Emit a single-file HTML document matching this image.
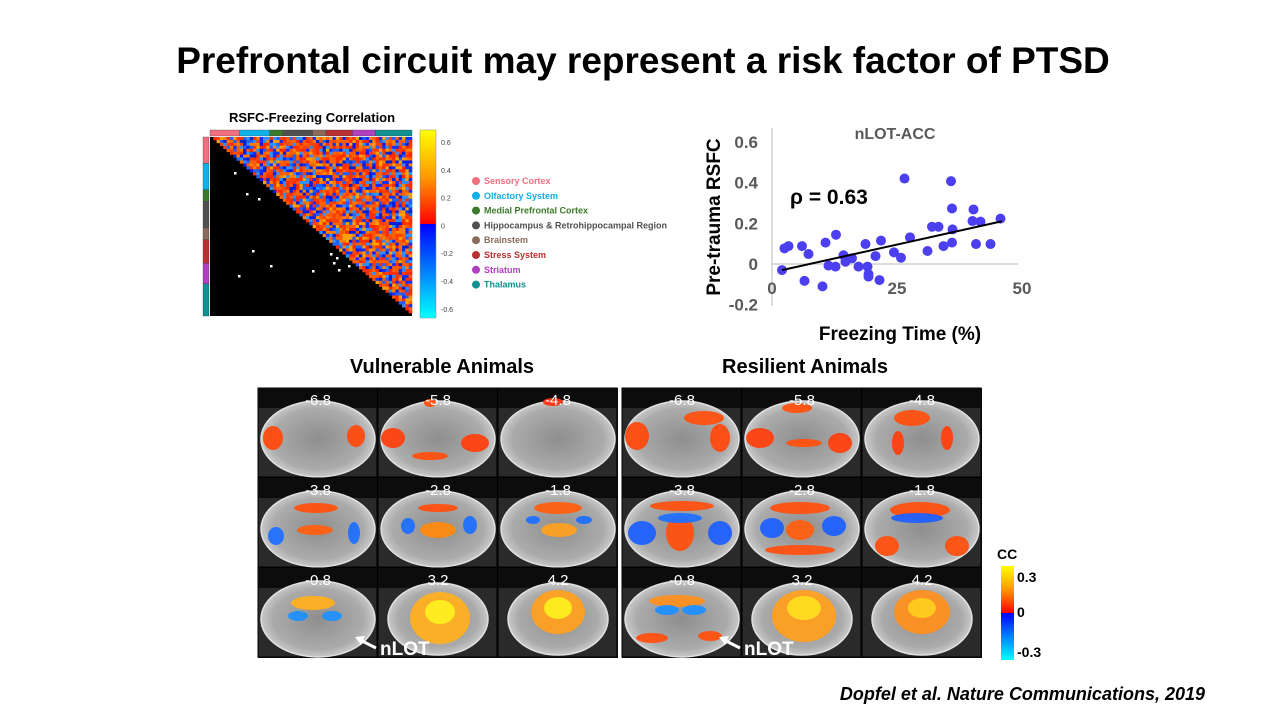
<!DOCTYPE html>
<html><head><meta charset="utf-8"><style>
html,body{margin:0;padding:0;background:#fff;}
body{width:1280px;height:720px;overflow:hidden;font-family:"Liberation Sans",sans-serif;}
</style></head><body>
<svg id="root" width="1280" height="720" viewBox="0 0 1280 720" font-family="Liberation Sans, sans-serif">
<defs>
<linearGradient id="cbar" x1="0" y1="0" x2="0" y2="1">
<stop offset="0" stop-color="#ffff00"/><stop offset="0.25" stop-color="#ff9900"/><stop offset="0.5" stop-color="#ff0000"/><stop offset="0.5" stop-color="#0000ff"/><stop offset="1" stop-color="#00ffff"/></linearGradient>
<radialGradient id="brainG" cx="0.5" cy="0.5" r="0.5"><stop offset="0" stop-color="#8e8e8e"/><stop offset="0.8" stop-color="#ababab"/><stop offset="1" stop-color="#c8c8c8"/></radialGradient>
</defs>
<text x="643" y="73" text-anchor="middle" font-size="37" font-weight="bold">Prefrontal circuit may represent a risk factor of PTSD</text>

<text x="312" y="122" text-anchor="middle" font-size="13" font-weight="bold">RSFC-Freezing Correlation</text>
<g id="matrix"></g>
<g id="mcbar">
<rect x="420" y="130" width="16" height="188" fill="url(#cbar)" stroke="#888" stroke-width="0.5"/>
</g>
<g id="legend"></g>

<g id="scatter"></g>

<text x="442" y="373" text-anchor="middle" font-size="20" font-weight="bold">Vulnerable Animals</text>
<text x="805" y="373" text-anchor="middle" font-size="20" font-weight="bold">Resilient Animals</text>
<g id="brains"></g>

<g>
<text x="997" y="559" font-size="14" font-weight="bold">CC</text>
<rect x="1001" y="566" width="13" height="94" fill="url(#cbar)"/>
<text x="1017" y="582" font-size="14" font-weight="bold">0.3</text>
<text x="1017" y="617" font-size="14" font-weight="bold">0</text>
<text x="1017" y="657" font-size="14" font-weight="bold">-0.3</text>
</g>
<text x="1205" y="700" text-anchor="end" font-size="18" font-weight="bold" font-style="italic">Dopfel et al. Nature Communications, 2019</text>
</svg>
<script>
const NS='http://www.w3.org/2000/svg';
function mk(tag,attrs,parent){const e=document.createElementNS(NS,tag);for(const k in attrs)e.setAttribute(k,attrs[k]);parent.appendChild(e);return e;}

// ---- scatter data ----
const freezeX=[2.0,2.5,3.3,6.0,6.5,7.3,10.1,10.7,11.3,12.7,12.8,14.3,14.7,16,17.3,18.7,19.1,19.3,19.3,20.7,21.5,21.8,24.4,25.8,26.5,27.6,31.1,32,33.3,34.3,35.8,36,36.1,36,40.3,40.1,40.8,41.7,43.7,45.7];
const rsfcY=[-0.03,0.077,0.088,0.088,-0.083,0.049,-0.11,0.105,-0.008,-0.013,0.144,0.043,0.011,0.028,-0.013,0.098,-0.013,-0.05,-0.062,0.039,-0.079,0.115,0.057,0.031,0.42,0.131,0.064,0.183,0.183,0.088,0.407,0.273,0.17,0.105,0.268,0.211,0.098,0.208,0.098,0.223];
const trendX=[2,46];
const trendY=[-0.03,0.21];
const xTicks=[0,25,50];
const yTicks=[0.6,0.4,0.2,0,-0.2];
const yTickLabels=['0.6','0.4','0.2','0','-0.2'];

const sx=v=>772+v*5;
const sy=v=>264-v*203.5;
const sc=document.getElementById('scatter');
mk('line',{x1:772,y1:128,x2:772,y2:306,stroke:'#d0d0d0','stroke-width':1.5},sc);
mk('line',{x1:772,y1:264,x2:1018,y2:264,stroke:'#d0d0d0','stroke-width':1.5},sc);
yTicks.forEach((t,i)=>{const e=mk('text',{x:758,y:sy(t)+6,'text-anchor':'end','font-size':17,'font-weight':'bold',fill:'#595959'},sc);e.textContent=yTickLabels[i];

});
xTicks.forEach(t=>{const e=mk('text',{x:sx(t),y:294,'text-anchor':'middle','font-size':17,'font-weight':'bold',fill:'#595959'},sc);e.textContent=String(t);

});
freezeX.forEach((x,i)=>{const c=mk('circle',{cx:sx(x),cy:sy(rsfcY[i]),r:5,fill:'#4b3ff0'},sc);

});
const tl=mk('line',{x1:sx(trendX[0]),y1:sy(trendY[0]),x2:sx(trendX[1]),y2:sy(trendY[1]),stroke:'#000','stroke-width':2},sc);


let t=mk('text',{x:895,y:139,'text-anchor':'middle','font-size':16,'font-weight':'bold',fill:'#595959'},sc);t.textContent='nLOT-ACC';

t=mk('text',{x:790,y:204,'font-size':21,'font-weight':'bold'},sc);t.textContent='ρ = 0.63';

t=mk('text',{x:720,y:217,'text-anchor':'middle','font-size':19,'font-weight':'bold',transform:'rotate(-90 720 217)'},sc);t.textContent='Pre-trauma RSFC';

t=mk('text',{x:900,y:340,'text-anchor':'middle','font-size':19,'font-weight':'bold'},sc);t.textContent='Freezing Time (%)';


// ---- matrix colorbar labels ----
const cbTicks=['0.6','0.4','0.2','0','-0.2','-0.4','-0.6'];
const cb=document.getElementById('mcbar');
cbTicks.forEach((s,i)=>{const e=mk('text',{x:441,y:145+i*27.8,'font-size':7,fill:'#444'},cb);e.textContent=s;
});

// ---- legend ----
const regions=['Sensory Cortex','Olfactory System','Medial Prefrontal Cortex','Hippocampus & Retrohippocampal Region','Brainstem','Stress System','Striatum','Thalamus'];
const regionColors=['#f07080','#10b0e8','#3a7a2a','#505050','#8a6a5a','#b83030','#b040c0','#109090'];
const lg=document.getElementById('legend');
regions.forEach((r,i)=>{const y=181+i*14.8;mk('circle',{cx:476,cy:y,r:4,fill:regionColors[i]},lg);
const e=mk('text',{x:484,y:y+3,'font-size':9,'font-weight':'bold',fill:regionColors[i]},lg);e.textContent=r;
});

// ---- matrix (texture) ----
const regionSizes=[9,9,4,9,4,8,7,11];
const mg=document.getElementById('matrix');
const N=61,X0=210,Y0=137,W=202,H=179,cw=W/N,ch=H/N;
mk('rect',{x:X0,y:Y0,width:W,height:H,fill:'#000'},mg);
let seed=7;function rnd(){seed=(seed*16807)%2147483647;return seed/2147483647;}
const pal=['#ff2a00','#ff5a00','#ff8000','#ffa000','#1030ff','#2060ff','#0020e0','#3090ff','#ff3000','#ff6000','#ff4000'];
for(let r=0;r<N;r++)for(let c=r+1;c<N;c++){const col=pal[Math.floor(rnd()*pal.length)];
mk('rect',{x:(X0+c*cw).toFixed(2),y:(Y0+r*ch).toFixed(2),width:(cw+0.3).toFixed(2),height:(ch+0.3).toFixed(2),fill:col},mg);}
let acc=0;const tot=regionSizes.reduce((a,b)=>a+b,0);
regionSizes.forEach((s,i)=>{mk('rect',{x:X0+acc/tot*W,y:130,width:s/tot*W,height:6,fill:regionColors[i],stroke:'#333','stroke-width':0.3},mg);
mk('rect',{x:203,y:Y0+acc/tot*H,width:6,height:s/tot*H,fill:regionColors[i],stroke:'#333','stroke-width':0.3},mg);acc+=s;});
[[234,172],[246,193],[258,198],[252,250],[270,265],[238,275],[312,270],[330,253],[333,262],[336,257],[338,269],[348,265],[223,316],[350,316]].forEach(p=>mk('rect',{x:p[0],y:p[1],width:2.5,height:2.5,fill:'#fff'},mg));

// ---- brain panels ----
const sliceLabels=['-6.8','-5.8','-4.8','-3.8','-2.8','-1.8','-0.8','3.2','4.2'];
const br=document.getElementById('brains');
const blobsV=[
[[15,50,10,12,'#ff4a10'],[98,48,9,11,'#ff4a10']],
[[15,50,12,10,'#ff4010'],[52,68,18,4,'#ff5010'],[97,55,14,9,'#ff4010'],[52,15,6,4,'#ff5010']],
[[55,14,10,4,'#ff3010']],
[[58,30,22,5,'#ff5010'],[18,58,8,9,'#2070ff'],[96,55,6,11,'#2070ff'],[57,52,18,5,'#ff6010']],
[[60,30,20,4,'#ff5010'],[30,48,7,8,'#2070ff'],[92,47,7,9,'#2070ff'],[60,52,18,8,'#ff8a10']],
[[60,30,24,6,'#ff6010'],[35,42,7,4,'#2070ff'],[86,42,8,4,'#2070ff'],[61,52,18,7,'#ffa020']],
[[55,35,22,7,'#ffb020'],[40,48,10,5,'#2090ff'],[74,48,10,5,'#2090ff']],
[[62,50,30,26,'#ffb020'],[62,44,15,12,'#ffee20']],
[[60,44,27,22,'#ffa020'],[60,40,14,11,'#ffee20']]
];
const blobsR=[
[[15,48,12,14,'#ff4a10'],[82,30,20,7,'#ff5010'],[98,50,10,14,'#ff4a10']],
[[18,50,14,10,'#ff4010'],[62,55,18,4,'#ff5010'],[98,55,12,10,'#ff4010'],[55,20,15,5,'#ff5010']],
[[50,30,18,8,'#ff5010'],[36,55,6,12,'#ff4010'],[85,50,6,12,'#ff4010']],
[[60,28,32,5,'#ff5010'],[20,55,14,12,'#2060ff'],[98,55,12,12,'#2060ff'],[58,55,14,18,'#ff5010'],[58,40,22,5,'#2070ff']],
[[58,30,30,6,'#ff5010'],[30,50,12,10,'#2060ff'],[92,48,12,10,'#2060ff'],[58,52,14,10,'#ff6010'],[58,72,35,5,'#ff5010']],
[[58,32,30,8,'#ff5010'],[55,40,26,5,'#2060ff'],[25,68,12,10,'#ff5010'],[95,68,12,10,'#ff5010']],
[[55,33,28,6,'#ff9020'],[45,42,12,5,'#2090ff'],[72,42,12,5,'#2090ff'],[30,70,16,5,'#ff5010'],[88,68,12,5,'#ff5010']],
[[62,48,32,26,'#ffa020'],[62,40,17,12,'#ffdd20']],
[[60,44,28,22,'#ff9020'],[60,40,14,10,'#ffcc20']]
];
function panel(px,blobs,name){
 const g=mk('g',{},br);
 mk('rect',{x:px,y:388,width:360,height:270,fill:'#111'},g);
 for(let i=0;i<9;i++){const cx=px+(i%3)*120,cy=388+Math.floor(i/3)*90;
  mk('rect',{x:cx,y:cy,width:119,height:89,fill:'#2a2a2a',stroke:'#000','stroke-width':1},g);
  mk('rect',{x:cx,y:cy,width:119,height:20,fill:'#0c0c0c'},g);
  mk('ellipse',{cx:cx+60,cy:cy+51,rx:i>6?50:57,ry:i>6?36:38,fill:'url(#brainG)',stroke:'#e0e0e0','stroke-width':1.5},g);
  blobs[i].forEach(b=>mk('ellipse',{cx:cx+b[0],cy:cy+b[1],rx:b[2],ry:b[3],fill:b[4],opacity:0.95},g));
  const tx=mk('text',{x:cx+60,y:cy+17,'text-anchor':'middle','font-size':15,fill:'#fff'},g);tx.textContent=sliceLabels[i];
  }
 const lb=mk('text',{x:px+122,y:655,'font-size':19,'font-weight':'bold',fill:'#fff'},g);lb.textContent='nLOT';
 
 mk('line',{x1:px+118,y1:648,x2:px+102,y2:640,stroke:'#fff','stroke-width':3},g);
 mk('polygon',{points:`${px+97},${637} ${px+107},${636} ${px+103},${645}`,fill:'#fff'},g);
}
panel(258,blobsV,'vulnerable-panel');
panel(622,blobsR,'resilient-panel');
</script>
</body></html>
